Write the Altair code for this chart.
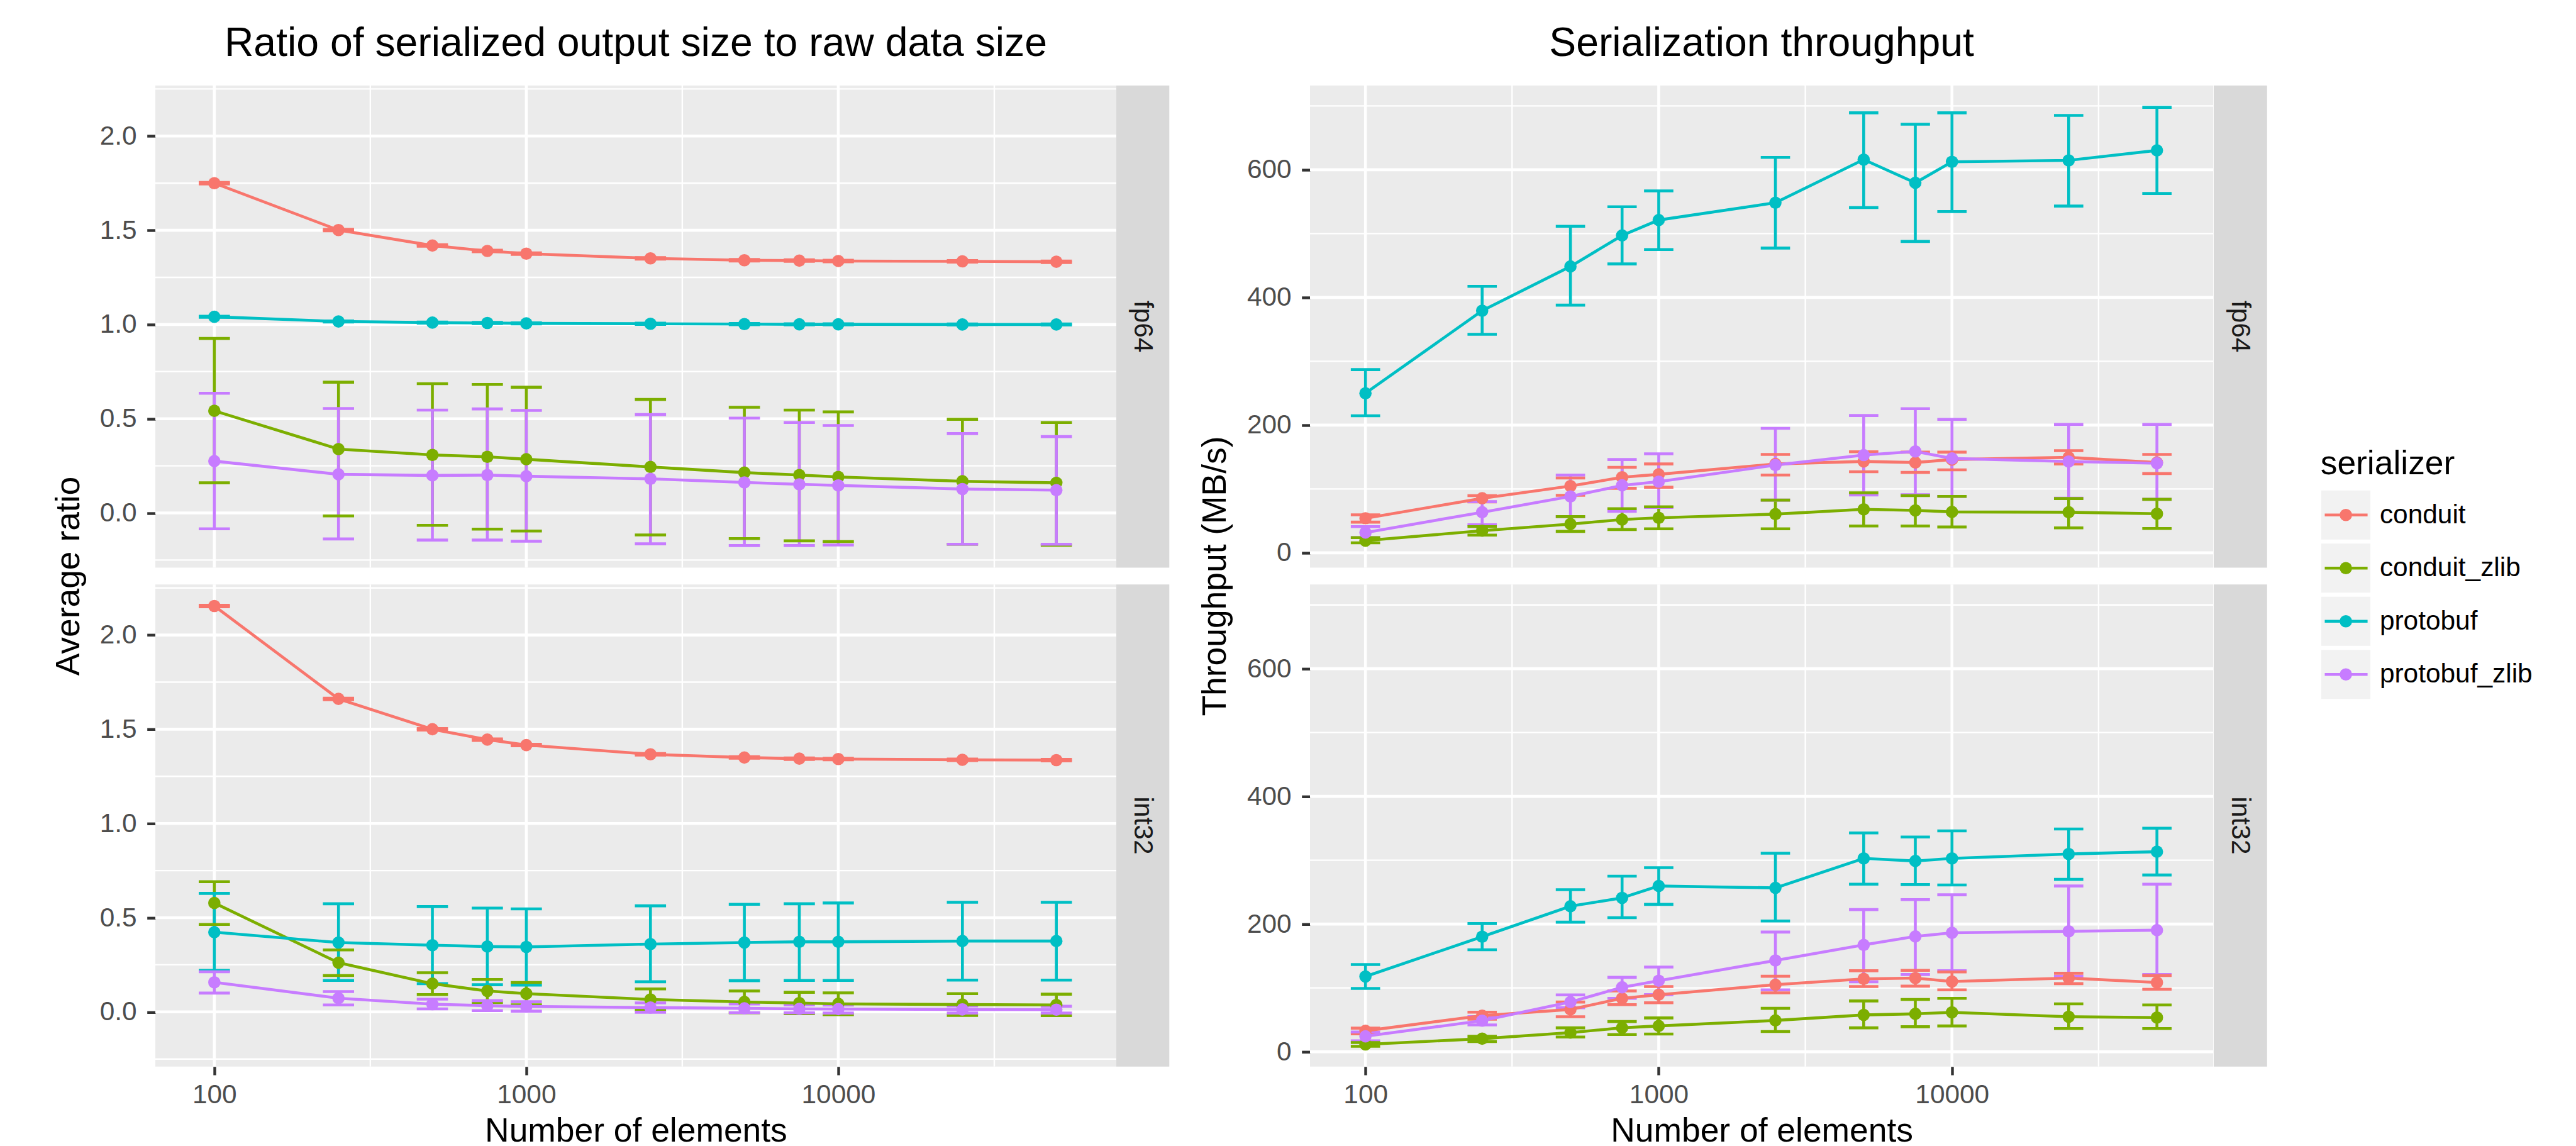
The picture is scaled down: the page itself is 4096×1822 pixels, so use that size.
import altair as alt
import pandas as pd

FONT = "Liberation Sans"

# ---------------- data ----------------
N_ELEMENTS = [100, 250, 500, 750, 1000, 2500, 5000, 7500, 10000, 25000, 50000]
SERIALIZERS = ["conduit", "conduit_zlib", "protobuf", "protobuf_zlib"]
COLORS = ["#F8766D", "#7CAE00", "#00BFC4", "#C77CFF"]

# Average ratio, fp64
R_FP64_CONDUIT_MEAN = [1.750, 1.501, 1.419, 1.390, 1.376, 1.351, 1.341, 1.339, 1.337, 1.335, 1.333]
R_FP64_CONDUIT_LO = [1.746, 1.497, 1.415, 1.386, 1.372, 1.347, 1.337, 1.335, 1.333, 1.331, 1.329]
R_FP64_CONDUIT_HI = [1.754, 1.505, 1.423, 1.394, 1.380, 1.355, 1.345, 1.343, 1.341, 1.339, 1.337]
R_FP64_CZLIB_MEAN = [0.542, 0.339, 0.308, 0.298, 0.285, 0.244, 0.214, 0.201, 0.191, 0.168, 0.160]
R_FP64_CZLIB_LO = [0.160, -0.016, -0.066, -0.086, -0.096, -0.117, -0.136, -0.148, -0.152, -0.166, -0.172]
R_FP64_CZLIB_HI = [0.926, 0.694, 0.686, 0.682, 0.667, 0.602, 0.561, 0.546, 0.536, 0.497, 0.480]
R_FP64_PROTO_MEAN = [1.041, 1.016, 1.010, 1.008, 1.006, 1.004, 1.002, 1.001, 1.001, 1.000, 1.000]
R_FP64_PROTO_LO = [1.038, 1.013, 1.007, 1.005, 1.003, 1.001, 0.999, 0.998, 0.998, 0.997, 0.997]
R_FP64_PROTO_HI = [1.044, 1.019, 1.013, 1.011, 1.009, 1.007, 1.005, 1.004, 1.004, 1.003, 1.003]
R_FP64_PZLIB_MEAN = [0.275, 0.205, 0.199, 0.201, 0.195, 0.181, 0.162, 0.152, 0.146, 0.127, 0.121]
R_FP64_PZLIB_LO = [-0.084, -0.138, -0.144, -0.144, -0.150, -0.164, -0.173, -0.173, -0.170, -0.166, -0.166]
R_FP64_PZLIB_HI = [0.635, 0.554, 0.546, 0.552, 0.544, 0.522, 0.503, 0.480, 0.464, 0.421, 0.405]

# Average ratio, int32
R_INT32_CONDUIT_MEAN = [2.154, 1.661, 1.500, 1.445, 1.416, 1.367, 1.350, 1.344, 1.342, 1.338, 1.336]
R_INT32_CONDUIT_LO = [2.150, 1.657, 1.496, 1.441, 1.412, 1.363, 1.346, 1.340, 1.338, 1.334, 1.332]
R_INT32_CONDUIT_HI = [2.158, 1.665, 1.504, 1.449, 1.420, 1.371, 1.354, 1.348, 1.346, 1.342, 1.340]
R_INT32_CZLIB_MEAN = [0.578, 0.261, 0.150, 0.111, 0.097, 0.066, 0.053, 0.047, 0.043, 0.039, 0.037]
R_INT32_CZLIB_LO = [0.464, 0.193, 0.092, 0.050, 0.038, 0.010, -0.005, -0.010, -0.015, -0.019, -0.020]
R_INT32_CZLIB_HI = [0.691, 0.329, 0.208, 0.172, 0.156, 0.122, 0.111, 0.104, 0.101, 0.097, 0.094]
R_INT32_PROTO_MEAN = [0.423, 0.368, 0.354, 0.347, 0.345, 0.360, 0.368, 0.372, 0.372, 0.376, 0.376]
R_INT32_PROTO_LO = [0.220, 0.167, 0.150, 0.144, 0.142, 0.160, 0.166, 0.167, 0.167, 0.169, 0.169]
R_INT32_PROTO_HI = [0.629, 0.574, 0.559, 0.551, 0.547, 0.563, 0.571, 0.574, 0.578, 0.582, 0.582]
R_INT32_PZLIB_MEAN = [0.157, 0.073, 0.041, 0.033, 0.029, 0.023, 0.019, 0.016, 0.015, 0.013, 0.012]
R_INT32_PZLIB_LO = [0.100, 0.037, 0.016, 0.007, 0.004, -0.002, -0.004, -0.005, -0.006, -0.006, -0.006]
R_INT32_PZLIB_HI = [0.213, 0.108, 0.068, 0.060, 0.054, 0.048, 0.042, 0.037, 0.036, 0.032, 0.030]

# Throughput (MB/s), fp64
T_FP64_CONDUIT_MEAN = [54.0, 85.4, 104.5, 118.3, 122.9, 139.1, 143.1, 141.4, 146.0, 149.5, 141.4]
T_FP64_CONDUIT_LO = [48.0, 79.7, 90.0, 101.0, 102.7, 121.8, 127.0, 125.8, 129.9, 139.1, 124.1]
T_FP64_CONDUIT_HI = [59.5, 89.5, 117.2, 133.9, 139.1, 154.1, 158.2, 157.6, 157.6, 159.9, 154.1]
T_FP64_CZLIB_MEAN = [19.0, 34.6, 45.0, 52.0, 54.8, 60.6, 68.1, 66.4, 64.0, 63.5, 61.2]
T_FP64_CZLIB_LO = [15.6, 27.7, 33.5, 36.4, 37.5, 37.5, 42.0, 42.0, 40.4, 39.0, 38.0]
T_FP64_CZLIB_HI = [23.7, 41.0, 56.6, 69.0, 72.0, 82.5, 94.0, 89.5, 88.3, 85.0, 83.7]
T_FP64_PROTO_MEAN = [249.9, 379.2, 448.5, 497.0, 521.2, 548.3, 615.9, 579.5, 612.4, 614.7, 630.3]
T_FP64_PROTO_LO = [214.7, 342.3, 387.9, 452.5, 475.0, 477.3, 540.8, 487.7, 534.5, 543.1, 562.8]
T_FP64_PROTO_HI = [286.9, 417.3, 511.4, 542.0, 566.8, 619.3, 689.2, 671.3, 689.2, 685.1, 697.8]
T_FP64_PZLIB_MEAN = [31.7, 63.5, 88.3, 105.6, 111.4, 137.4, 153.0, 158.7, 147.8, 143.0, 140.3]
T_FP64_PZLIB_LO = [23.7, 44.0, 56.6, 65.0, 71.0, 82.5, 90.6, 91.0, 88.3, 85.4, 83.7]
T_FP64_PZLIB_HI = [41.0, 80.0, 121.8, 146.0, 155.0, 195.0, 215.0, 225.7, 209.0, 201.0, 201.0]

# Throughput (MB/s), int32
T_INT32_CONDUIT_MEAN = [32.8, 56.6, 66.3, 83.6, 89.4, 105.0, 114.2, 115.4, 110.0, 115.4, 108.5]
T_INT32_CONDUIT_LO = [28.0, 51.0, 54.8, 73.8, 76.7, 92.3, 102.1, 102.7, 97.0, 106.7, 98.0]
T_INT32_CONDUIT_HI = [37.0, 62.0, 77.9, 95.2, 102.1, 118.3, 126.9, 127.5, 125.0, 122.9, 119.4]
T_INT32_CZLIB_MEAN = [11.5, 20.5, 30.0, 37.5, 40.4, 49.0, 57.7, 59.4, 61.7, 54.8, 53.6]
T_INT32_CZLIB_LO = [8.5, 16.0, 23.0, 27.0, 27.7, 31.7, 37.5, 39.2, 40.4, 36.3, 36.3]
T_INT32_CZLIB_HI = [14.5, 24.2, 37.5, 47.3, 53.0, 68.0, 79.6, 81.9, 83.6, 75.0, 73.3]
T_INT32_PROTO_MEAN = [117.9, 180.2, 227.9, 241.1, 259.6, 256.7, 302.9, 298.8, 302.9, 309.8, 313.3]
T_INT32_PROTO_LO = [99.2, 159.7, 203.0, 210.0, 230.8, 204.8, 262.5, 261.9, 261.3, 270.0, 276.9]
T_INT32_PROTO_HI = [136.6, 200.8, 253.8, 275.0, 288.4, 311.0, 342.7, 336.3, 346.0, 349.0, 350.2]
T_INT32_PZLIB_MEAN = [24.2, 48.7, 77.9, 101.0, 111.3, 143.0, 167.3, 180.6, 186.3, 188.6, 190.4]
T_INT32_PZLIB_LO = [17.0, 42.0, 69.0, 83.6, 89.4, 96.9, 109.6, 121.0, 127.0, 118.0, 121.0]
T_INT32_PZLIB_HI = [31.0, 55.0, 89.0, 116.5, 132.7, 187.5, 222.7, 238.3, 245.8, 259.6, 262.5]

# axis breaks / grid positions
X_MAJOR = [100, 1000, 10000]
X_MINOR = [316.23, 3162.28, 31622.78]
X_DOMAIN = [64.7, 77800]
RATIO_Y_MAJOR = [0.0, 0.5, 1.0, 1.5, 2.0]
RATIO_Y_MINOR = [-0.25, 0.25, 0.75, 1.25, 1.75, 2.25]
RATIO_Y_DOMAIN = [-0.290, 2.268]
TPUT_Y_MAJOR = [0, 200, 400, 600]
TPUT_Y_MINOR = [100, 300, 500, 700]
TPUT_Y_DOMAIN = [-23.2, 731.9]

SERIES = {
    ("ratio", "fp64", "conduit"): (R_FP64_CONDUIT_MEAN, R_FP64_CONDUIT_LO, R_FP64_CONDUIT_HI),
    ("ratio", "fp64", "conduit_zlib"): (R_FP64_CZLIB_MEAN, R_FP64_CZLIB_LO, R_FP64_CZLIB_HI),
    ("ratio", "fp64", "protobuf"): (R_FP64_PROTO_MEAN, R_FP64_PROTO_LO, R_FP64_PROTO_HI),
    ("ratio", "fp64", "protobuf_zlib"): (R_FP64_PZLIB_MEAN, R_FP64_PZLIB_LO, R_FP64_PZLIB_HI),
    ("ratio", "int32", "conduit"): (R_INT32_CONDUIT_MEAN, R_INT32_CONDUIT_LO, R_INT32_CONDUIT_HI),
    ("ratio", "int32", "conduit_zlib"): (R_INT32_CZLIB_MEAN, R_INT32_CZLIB_LO, R_INT32_CZLIB_HI),
    ("ratio", "int32", "protobuf"): (R_INT32_PROTO_MEAN, R_INT32_PROTO_LO, R_INT32_PROTO_HI),
    ("ratio", "int32", "protobuf_zlib"): (R_INT32_PZLIB_MEAN, R_INT32_PZLIB_LO, R_INT32_PZLIB_HI),
    ("tput", "fp64", "conduit"): (T_FP64_CONDUIT_MEAN, T_FP64_CONDUIT_LO, T_FP64_CONDUIT_HI),
    ("tput", "fp64", "conduit_zlib"): (T_FP64_CZLIB_MEAN, T_FP64_CZLIB_LO, T_FP64_CZLIB_HI),
    ("tput", "fp64", "protobuf"): (T_FP64_PROTO_MEAN, T_FP64_PROTO_LO, T_FP64_PROTO_HI),
    ("tput", "fp64", "protobuf_zlib"): (T_FP64_PZLIB_MEAN, T_FP64_PZLIB_LO, T_FP64_PZLIB_HI),
    ("tput", "int32", "conduit"): (T_INT32_CONDUIT_MEAN, T_INT32_CONDUIT_LO, T_INT32_CONDUIT_HI),
    ("tput", "int32", "conduit_zlib"): (T_INT32_CZLIB_MEAN, T_INT32_CZLIB_LO, T_INT32_CZLIB_HI),
    ("tput", "int32", "protobuf"): (T_INT32_PROTO_MEAN, T_INT32_PROTO_LO, T_INT32_PROTO_HI),
    ("tput", "int32", "protobuf_zlib"): (T_INT32_PZLIB_MEAN, T_INT32_PZLIB_LO, T_INT32_PZLIB_HI),
}

rows = []
for (metric, dtype, ser), (means, los, his) in SERIES.items():
    for n, m, lo, hi in zip(N_ELEMENTS, means, los, his):
        rows.append(dict(metric=metric, dtype=dtype, serializer=ser, n=n, mean=m, lo=lo, hi=hi))
DF = pd.DataFrame(rows)

# ---------------- layout / style ----------------
W_L, W_R = 1527.9, 1436.2
STRIP_L, STRIP_R = 84.3, 84.8
H, GAP = 766.4, 26.3
SP1, SP2, LEG_W = 223.0, 85.7, 300
LW, MLW = 4.6, 2.4
PT = 385
FS_TITLE, FS_AXT, FS_TICK = 64.3, 53.4, 42.4
PANEL_BG, STRIP_BG, KEY_BG = "#EBEBEB", "#D9D9D9", "#F2F2F2"
NO_STROKE = dict(strokeWidth=0, strokeOpacity=0)

CSCALE = alt.Scale(domain=SERIALIZERS, range=COLORS)
COL = alt.Color("serializer:N", scale=CSCALE, legend=None)

TICK_STYLE = dict(
    tickSize=13.3, tickWidth=4.4, tickColor="#333333", labelColor="#4D4D4D",
    labelFont=FONT, labelFontSize=FS_TICK, domain=False, grid=False,
    labelFlush=False, labelOverlap=False,
)
TITLE_STYLE = dict(titleFont=FONT, titleFontSize=FS_AXT, titleFontWeight="normal", titleColor="black")


def make_panel(metric, dtype, ydom, ymaj, ymin, yfmt, width, top, title=None, ytitle=None, ytitle_x=0.0):
    d = DF[(DF.metric == metric) & (DF.dtype == dtype)]
    xs = alt.Scale(type="log", domain=X_DOMAIN, nice=False)
    ys = alt.Scale(domain=ydom, nice=False, zero=False)

    if top:
        xaxis = None
    else:
        xaxis = alt.Axis(values=X_MAJOR, format="d", title="Number of elements",
                         titleY=119.1, titleBaseline="alphabetic", labelPadding=11.3,
                         **TITLE_STYLE, **TICK_STYLE)
    if ytitle:
        yaxis = alt.Axis(values=ymaj, format=yfmt, title=ytitle, titleX=ytitle_x, titleY=H + GAP / 2,
                         titleAngle=270, titleAlign="center", titleBaseline="alphabetic",
                         labelPadding=16.5, **TITLE_STYLE, **TICK_STYLE)
    else:
        yaxis = alt.Axis(values=ymaj, format=yfmt, title=None, labelPadding=16.5, **TICK_STYLE)

    def X(field):
        return alt.X(field, scale=xs, axis=xaxis)

    def Y(field):
        return alt.Y(field, scale=ys, axis=yaxis)

    def vrule(vals, w):
        return alt.Chart(pd.DataFrame({"v": vals})).mark_rule(color="white", strokeWidth=w).encode(x=X("v:Q"))

    def hrule(vals, w):
        return alt.Chart(pd.DataFrame({"v": vals})).mark_rule(color="white", strokeWidth=w).encode(y=Y("v:Q"))

    base = alt.Chart(d)
    err = base.mark_rule(strokeWidth=LW).encode(x=X("n:Q"), y=Y("lo:Q"), y2="hi:Q", color=COL)
    caps = base.transform_calculate(xl="datum.n * pow(10, -0.05)", xh="datum.n * pow(10, 0.05)")
    cap_lo = caps.mark_rule(strokeWidth=LW).encode(x=X("xl:Q"), x2="xh:Q", y=Y("lo:Q"), color=COL)
    cap_hi = caps.mark_rule(strokeWidth=LW).encode(x=X("xl:Q"), x2="xh:Q", y=Y("hi:Q"), color=COL)
    line = base.mark_line(strokeWidth=LW).encode(x=X("n:Q"), y=Y("mean:Q"), color=COL)
    pts = base.mark_circle(size=PT, opacity=1).encode(x=X("n:Q"), y=Y("mean:Q"), color=COL)

    layer = alt.layer(vrule(X_MINOR, MLW), vrule(X_MAJOR, LW), hrule(ymin, MLW), hrule(ymaj, LW),
                      err, cap_lo, cap_hi, line, pts)
    props = dict(width=width, height=H, view=alt.ViewBackground(fill=PANEL_BG, **NO_STROKE))
    if title:
        props["title"] = alt.TitleParams(title, font=FONT, fontSize=FS_TITLE, fontWeight="normal",
                                         color="black", anchor="middle", frame="group",
                                         baseline="alphabetic", offset=-20)
    return layer.properties(**props)


def make_strip(label, width):
    return alt.Chart(pd.DataFrame({"dtype": [label]})).mark_text(
        angle=90, align="center", baseline="middle", fontSize=FS_TICK, font=FONT, color="#1A1A1A"
    ).encode(text="dtype:N").properties(
        width=width, height=H, view=alt.ViewBackground(fill=STRIP_BG, **NO_STROKE))


def spacer(width):
    return alt.Chart(pd.DataFrame({"a": [0]})).mark_point(opacity=0).properties(
        width=width, height=H, view=alt.ViewBackground(**NO_STROKE))


# manual legend (ggplot style keys)
KEY_W = 78.1
KEY_STEP = 84.5
LEG_Y0 = 640.5
leg_df = pd.DataFrame({"serializer": SERIALIZERS})
ysc = alt.Scale(domain=SERIALIZERS, range=[LEG_Y0, LEG_Y0 + 4 * KEY_STEP],
                paddingInner=0.0757, paddingOuter=0.0379)
YL = alt.Y("serializer:N", scale=ysc, axis=None)
keys = alt.Chart(leg_df).mark_rect(color=KEY_BG).encode(y=YL, x=alt.value(0), x2=alt.value(KEY_W))
sym_line = alt.Chart(leg_df).mark_rule(strokeWidth=LW).encode(y=YL, x=alt.value(5.5), x2=alt.value(73.6), color=COL)
sym_pt = alt.Chart(leg_df).mark_circle(size=PT, opacity=1).encode(y=YL, x=alt.value(39.05), color=COL)
leg_labels = alt.Chart(leg_df).mark_text(
    align="left", baseline="middle", fontSize=FS_TICK, font=FONT, color="black"
).encode(y=YL, x=alt.value(92.9), text="serializer:N")
leg_title = alt.Chart(pd.DataFrame({"t": ["serializer"]})).mark_text(
    align="left", baseline="alphabetic", fontSize=FS_AXT, font=FONT, color="black"
).encode(text="t:N", x=alt.value(-1.3), y=alt.value(618.0))
legend = alt.layer(keys, sym_line, sym_pt, leg_labels, leg_title).properties(
    width=LEG_W, height=H, view=alt.ViewBackground(**NO_STROKE))

pL1 = make_panel("ratio", "fp64", RATIO_Y_DOMAIN, RATIO_Y_MAJOR, RATIO_Y_MINOR, ".1f", W_L, True,
                 title="Ratio of serialized output size to raw data size",
                 ytitle="Average ratio", ytitle_x=-121.4)
pL2 = make_panel("ratio", "int32", RATIO_Y_DOMAIN, RATIO_Y_MAJOR, RATIO_Y_MINOR, ".1f", W_L, False)
pR1 = make_panel("tput", "fp64", TPUT_Y_DOMAIN, TPUT_Y_MAJOR, TPUT_Y_MINOR, "d", W_R, True,
                 title="Serialization throughput",
                 ytitle="Throughput (MB/s)", ytitle_x=-134.4)
pR2 = make_panel("tput", "int32", TPUT_Y_DOMAIN, TPUT_Y_MAJOR, TPUT_Y_MINOR, "d", W_R, False)

chart = alt.concat(
    pL1, make_strip("fp64", STRIP_L), spacer(SP1), pR1, make_strip("fp64", STRIP_R), spacer(SP2), legend,
    pL2, make_strip("int32", STRIP_L), spacer(SP1), pR2, make_strip("int32", STRIP_R),
    columns=7, spacing={"row": GAP, "column": 0}, bounds="flush",
).properties(
    padding={"left": 74, "top": 30, "right": 5, "bottom": 0},
    background="white",
).configure_view(strokeWidth=0, strokeOpacity=0).configure(font=FONT)

chart.save("out.html", embed_options={"renderer": "svg", "actions": False})
